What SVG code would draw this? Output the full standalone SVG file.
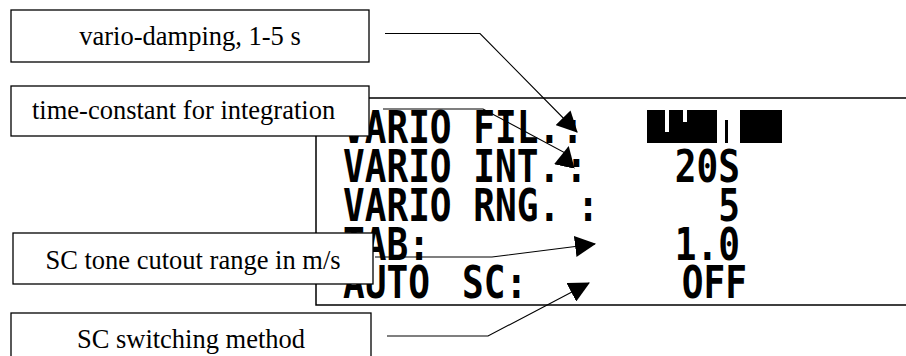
<svg xmlns="http://www.w3.org/2000/svg" width="906" height="356" viewBox="0 0 906 356">
<defs>
<style>
.box{fill:#fff;stroke:#000;stroke-width:1.3}
.lbl{font-family:"Liberation Serif","Times New Roman",serif;font-size:26.5px;fill:#000}
.lcd{font-family:"DejaVu Sans Mono","Liberation Mono",monospace;font-weight:bold;font-size:44px;fill:#000}
.frame{fill:none;stroke:#000;stroke-width:1.5}
.conn{fill:none;stroke:#000;stroke-width:1.1;marker-end:url(#ah)}
</style>
<marker id="ah" markerUnits="userSpaceOnUse" markerWidth="21" markerHeight="21" viewBox="0 0 20 20" refX="19" refY="10" orient="auto">
<path d="M0,0 L20,10 L0,20 z" fill="#000"/>
</marker>
</defs>
<rect width="906" height="356" fill="#fff"/>
<g id="lcd">
<path class="frame" d="M906,98 H316 V305 H906"/>
<g transform="scale(0.82,1)" class="lcd">
<text x="418.3" y="143">VARIO FIL.</text>
<text x="698.2" y="143" text-anchor="middle">:</text>
<text x="418.3" y="182">VARIO INT.</text>
<text x="703" y="182" text-anchor="middle">:</text>
<text x="418.3" y="221">VARIO RNG.</text>
<text x="717.1" y="221" text-anchor="middle">:</text>
<text x="418.3" y="260">TAB:</text>
<text x="418.3" y="298">AUTO</text>
<text x="563.4" y="298">SC:</text>
<text x="902.4" y="182" text-anchor="end">20S</text>
<text x="902.4" y="221" text-anchor="end">5</text>
<text x="902.4" y="260" text-anchor="end">1.0</text>
<text x="911" y="298" text-anchor="end">OFF</text>
</g>
<g id="inverted-field">
<rect x="647" y="110" width="135" height="33" fill="#000"/>
<rect x="665" y="110" width="4" height="22" fill="#fff"/>
<rect x="683" y="110" width="4" height="12" fill="#fff"/>
<rect x="717" y="110" width="8" height="33" fill="#fff"/>
<rect x="728" y="110" width="12" height="33" fill="#fff"/>
<rect x="725" y="110" width="3" height="10" fill="#fff"/>
</g>
</g>
<g id="connectors">
<path class="conn" d="M385,33.5 H480 L577,132"/>
<path class="conn" d="M383,109 H483 L567,154 L568.5,147"/>
<path class="conn" d="M375,257 H492 L595,244"/>
<path class="conn" d="M387,336 H488 L589,283"/>
</g>
<g id="node-damping">
<rect class="box" x="11" y="10" width="358" height="52"/>
<text class="lbl" x="190" y="45" text-anchor="middle">vario-damping, 1-5 s</text>
</g>
<g id="node-timeconstant">
<rect class="box" x="11" y="86" width="358" height="50"/>
<text class="lbl" x="32" y="119">time-constant for integration</text>
</g>
<g id="node-cutout">
<rect class="box" x="13" y="233" width="360" height="51"/>
<text class="lbl" x="193" y="269" text-anchor="middle">SC tone cutout range in m/s</text>
</g>
<g id="node-switching">
<rect class="box" x="11" y="313" width="360" height="60"/>
<text class="lbl" x="191" y="348" text-anchor="middle">SC switching method</text>
</g>
</svg>
